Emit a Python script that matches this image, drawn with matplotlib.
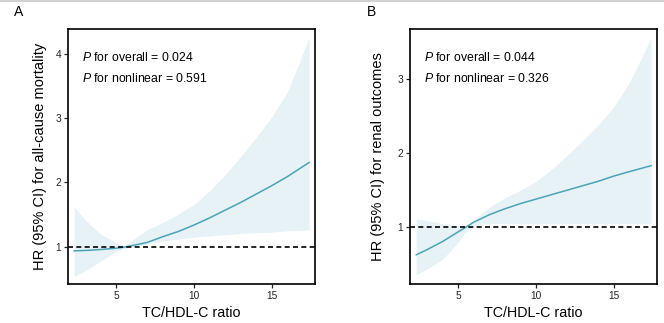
import numpy as np
import matplotlib
matplotlib.use('Agg')
import matplotlib.pyplot as plt
from matplotlib.lines import Line2D

plt.rcParams['font.family'] = ['Liberation Sans', 'DejaVu Sans']
plt.rcParams['mathtext.fontset'] = 'custom'
plt.rcParams['mathtext.it'] = 'Liberation Sans:italic'

# panel A: all-cause mortality
x_a = [2.3, 3, 4, 5, 5.6, 6, 7, 8, 9, 10, 11, 12, 13, 14, 15, 16, 17.4]
hr_a = [0.94, 0.945, 0.96, 0.98, 1.0, 1.02, 1.07, 1.16, 1.24, 1.34, 1.45, 1.57, 1.69, 1.82, 1.95, 2.09, 2.31]
lo_a = [0.54, 0.63, 0.78, 0.93, 0.98, 1.0, 1.05, 1.09, 1.12, 1.15, 1.17, 1.19, 1.21, 1.22, 1.23, 1.25, 1.26]
hi_a = [1.62, 1.42, 1.2, 1.06, 1.02, 1.1, 1.27, 1.38, 1.51, 1.66, 1.87, 2.12, 2.40, 2.70, 3.02, 3.40, 4.25]

# panel B: renal outcomes
x_b = [2.3, 3, 4, 5, 5.4, 6, 7, 8, 9, 10, 11, 12, 13, 14, 15, 16, 17.4]
hr_b = [0.63, 0.70, 0.81, 0.94, 0.99, 1.07, 1.17, 1.25, 1.32, 1.38, 1.44, 1.50, 1.56, 1.62, 1.69, 1.75, 1.83]
lo_b = [0.36, 0.44, 0.57, 0.80, 0.92, 1.02, 1.05, 1.05, 1.05, 1.05, 1.05, 1.05, 1.05, 1.05, 1.05, 1.05, 1.05]
hi_b = [1.11, 1.09, 1.05, 1.02, 1.01, 1.10, 1.27, 1.40, 1.50, 1.62, 1.78, 1.97, 2.17, 2.38, 2.62, 2.95, 3.55]

panels = [
    ('A', x_a, hr_a, lo_a, hi_a, 'HR (95% CI) for all-cause mortality',
     '0.024', '0.591', [1, 2, 3, 4], (0.425, 4.38)),
    ('B', x_b, hr_b, lo_b, hi_b, 'HR (95% CI) for renal outcomes',
     '0.044', '0.326', [1, 2, 3], (0.237, 3.67)),
]
lefts = [0.1024, 0.6175]
ylab_x = [-0.085, -0.1]
label_x = [0.021, 0.553]

fig = plt.figure(figsize=(6.64, 3.23), dpi=100)
fig.add_artist(Line2D([0, 1], [0.997, 0.997], color='#c8c8c8', lw=1.2))

for i, (tag, x, hr, lo, hi, ylab, p1, p2, yt, ylim) in enumerate(panels):
    ax = fig.add_axes([lefts[i], 0.1207, 0.3725, 0.7895])
    ax.fill_between(x, lo, hi, color='#e7f2f7', lw=0)
    ax.plot(x, hr, color='#4aa3b5', lw=1.1)
    ax.axhline(1, color='black', lw=1.2, ls=(0, (3, 2)))
    ax.set_xlim(1.9, 17.8)
    ax.set_ylim(*ylim)
    ax.set_xticks([5, 10, 15])
    ax.set_yticks(yt)
    ax.tick_params(labelsize=7.3, length=3, width=0.9, colors='#222222', pad=2)
    for s in ax.spines.values():
        s.set_linewidth(1.2)
    ax.set_xlabel('TC/HDL-C ratio', fontsize=10.3)
    ax.set_ylabel(ylab, fontsize=10.5)
    ax.xaxis.set_label_coords(0.5, -0.085)
    ax.yaxis.set_label_coords(ylab_x[i], 0.5)
    ax.text(0.056, 0.889, r'$\it{P}$ for overall = ' + p1, transform=ax.transAxes,
            fontsize=8.8, va='center')
    ax.text(0.056, 0.807, r'$\it{P}$ for nonlinear = ' + p2, transform=ax.transAxes,
            fontsize=8.8, va='center')
    fig.text(label_x[i], 0.963, tag, fontsize=10, va='center')

fig.savefig('out.png', dpi=100)
